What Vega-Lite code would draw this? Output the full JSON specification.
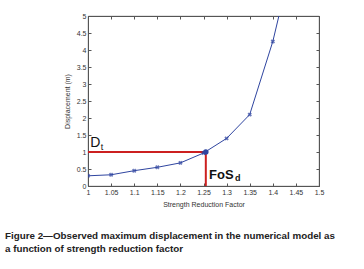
{
  "$schema": "https://vega.github.io/schema/vega-lite/v6.json",
  "autosize": "none",
  "width": 231,
  "height": 170,
  "padding": {"left": 88, "top": 16, "right": 45, "bottom": 83},
  "background": "white",
  "config": {
    "view": {"stroke": "#555", "strokeWidth": 0.8},
    "axis": {"grid": false, "domainColor": "#555", "tickColor": "#555", "labelFont": "Liberation Sans", "labelFontSize": 7, "labelColor": "#333", "titleFont": "Liberation Sans", "titleFontSize": 7, "titleFontWeight": "normal", "titleColor": "#333", "tickSize": -3, "labelPadding": 5, "labelOverlap": false, "labelFlush": false}
  },
  "title": {
    "text": ["Figure 2\u2014Observed maximum displacement in the numerical model as", "a function of strength reduction factor"],
    "orient": "bottom",
    "anchor": "start",
    "frame": "group",
    "dx": -83,
    "offset": 24,
    "font": "Liberation Sans",
    "fontSize": 9.8,
    "fontWeight": "bold",
    "color": "#222",
    "lineHeight": 13
  },
  "datasets": {
    "curve": [
      {"srf": 1.0, "disp": 0.3},
      {"srf": 1.05, "disp": 0.33},
      {"srf": 1.1, "disp": 0.45},
      {"srf": 1.15, "disp": 0.55},
      {"srf": 1.2, "disp": 0.68},
      {"srf": 1.25, "disp": 0.97},
      {"srf": 1.3, "disp": 1.4},
      {"srf": 1.35, "disp": 2.1},
      {"srf": 1.4, "disp": 4.25},
      {"srf": 1.45, "disp": 7.1}
    ],
    "red": [
      {"srf": 1.0, "srf2": 1.255, "disp": 1.0, "disp2": 1.0},
      {"srf": 1.255, "srf2": 1.255, "disp": 0.0, "disp2": 1.0}
    ],
    "fos": [{"srf": 1.255, "disp": 1.0}]
  },
  "resolve": {"axis": {"x": "independent", "y": "independent"}},
  "layer": [
    {
      "encoding": {
        "x": {"field": "srf", "type": "quantitative", "scale": {"domain": [1, 1.5], "nice": false},
          "axis": {"values": [1, 1.05, 1.1, 1.15, 1.2, 1.25, 1.3, 1.35, 1.4, 1.45, 1.5], "format": "~g", "title": "Strength Reduction Factor", "titlePadding": 5}},
        "y": {"field": "disp", "type": "quantitative", "scale": {"domain": [0, 5], "nice": false},
          "axis": {"values": [0, 0.5, 1, 1.5, 2, 2.5, 3, 3.5, 4, 4.5, 5], "format": "~g", "title": "Displacement (m)", "titlePadding": 6}}
      },
      "layer": [
        {
          "data": {"name": "red"},
          "mark": {"type": "rule", "color": "#cc2020", "strokeWidth": 2},
          "encoding": {
            "x2": {"field": "srf2"},
            "y2": {"field": "disp2"}
          }
        },
        {
          "data": {"name": "curve"},
          "mark": {"type": "line", "color": "#2f45a0", "strokeWidth": 1, "clip": true}
        },
        {
          "data": {"name": "curve"},
          "mark": {"type": "point", "shape": "cross", "angle": 45, "filled": true, "color": "#2f45a0", "size": 20, "clip": true}
        },
        {
          "data": {"name": "fos"},
          "mark": {"type": "point", "shape": "circle", "filled": true, "color": "#2f45a0", "size": 30, "opacity": 1}
        },
        {
          "data": {"values": [{"srf": 1.005, "disp": 1.27, "t": "D"}]},
          "mark": {"type": "text", "align": "left", "baseline": "middle", "font": "Liberation Sans", "fontSize": 14, "color": "#111"},
          "encoding": {"text": {"field": "t"}}
        },
        {
          "data": {"values": [{"srf": 1.005, "disp": 1.27, "t": "t"}]},
          "mark": {"type": "text", "align": "left", "baseline": "middle", "font": "Liberation Sans", "fontSize": 9, "color": "#111", "dx": 10.5, "dy": 4},
          "encoding": {"text": {"field": "t"}}
        },
        {
          "data": {"values": [{"srf": 1.262, "disp": 0.33, "t": "FoS"}]},
          "mark": {"type": "text", "align": "left", "baseline": "middle", "font": "Liberation Sans", "fontSize": 13, "fontWeight": "bold", "color": "#111"},
          "encoding": {"text": {"field": "t"}}
        },
        {
          "data": {"values": [{"srf": 1.262, "disp": 0.33, "t": "d"}]},
          "mark": {"type": "text", "align": "left", "baseline": "middle", "font": "Liberation Sans", "fontSize": 9, "fontWeight": "bold", "color": "#111", "dx": 26, "dy": 3},
          "encoding": {"text": {"field": "t"}}
        }
      ]
    },
    {
      "data": {"name": "fos"},
      "mark": {"type": "point", "opacity": 0},
      "encoding": {
        "x": {"field": "srf", "type": "quantitative",
          "axis": {"orient": "top", "values": [1, 1.05, 1.1, 1.15, 1.2, 1.25, 1.3, 1.35, 1.4, 1.45, 1.5], "labels": false, "title": null}},
        "y": {"field": "disp", "type": "quantitative",
          "axis": {"orient": "right", "values": [0, 0.5, 1, 1.5, 2, 2.5, 3, 3.5, 4, 4.5, 5], "labels": false, "title": null}}
      }
    }
  ]
}
